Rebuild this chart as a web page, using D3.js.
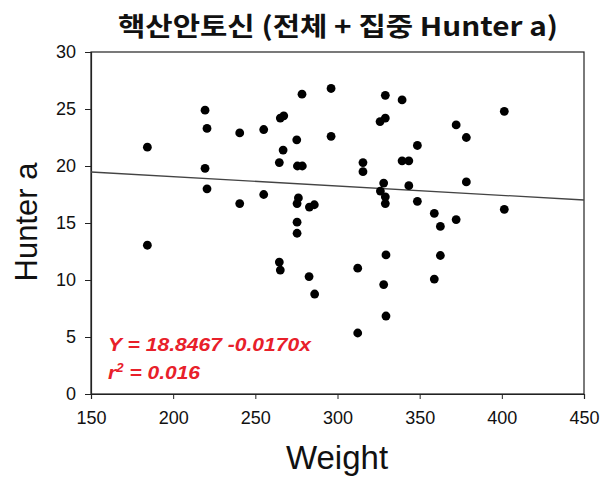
<!DOCTYPE html>
<html>
<head>
<meta charset="utf-8">
<script src="https://cdn.jsdelivr.net/npm/d3@7"></script>
<style>
  html, body { margin: 0; padding: 0; background: #fff; }
  svg { display: block; }
</style>
</head>
<body>
<div id="chart"></div>
<script>
// Sample weights and their Hunter a readings
const weight = [
  184.3, 184.3, 219.4, 220.6, 219.4, 220.6, 240.5, 240.5, 255.1, 255.1,
  265.2, 267.3, 266.9, 264.6, 264.6, 265.2, 278.4, 275.2, 275.6, 278.6,
  276.2, 275.4, 275.4, 275.4, 282.9, 285.9, 282.7, 286.1, 296.1, 296.1,
  312.3, 312.3, 315.5, 315.5, 325.9, 329.1, 329.1, 328.1, 326.1, 329.1,
  329.1, 329.5, 328.1, 329.5, 339.3, 339.3, 343.4, 343.4, 348.6, 348.6,
  358.9, 358.9, 362.6, 362.6, 372.2, 372.2, 378.4, 378.4, 401.5, 401.5
];
const hunterA = [
  21.65, 13.05, 24.9, 23.3, 19.8, 18.0, 22.9, 16.7, 23.2, 17.5,
  24.2, 24.4, 21.4, 20.3, 11.57, 10.87, 26.3, 22.3, 20.0, 20.0,
  17.2, 16.7, 15.07, 14.1, 16.4, 16.6, 10.3, 8.77, 26.8, 22.6,
  11.04, 5.35, 20.3, 19.5, 23.9, 24.2, 26.2, 18.5, 17.8, 17.3,
  16.7, 12.2, 9.6, 6.84, 25.8, 20.45, 20.45, 18.27, 21.8, 16.9,
  15.85, 10.08, 14.7, 12.15, 23.6, 15.3, 22.5, 18.6, 24.8, 16.2
];
const xTicks = [150, 200, 250, 300, 350, 400, 450];
const yTicks = [0, 5, 10, 15, 20, 25, 30];
const titleText = "핵산안토신 (전체 + 집중 Hunter a)";
const equationLines = ["Y = 18.8467 -0.0170x", "r² = 0.016"];

const W = 611, H = 482;
const margin = { left: 91, right: 27, top: 52, bottom: 88 };

const svg = d3.select("#chart").append("svg")
  .attr("width", W).attr("height", H);

const x = d3.scaleLinear().domain([150, 450]).range([margin.left, W - margin.right]);
const y = d3.scaleLinear().domain([0, 30]).range([H - margin.bottom, margin.top]);

const sans = "Liberation Sans, Arial, sans-serif";

// Plot frame
svg.append("rect")
  .attr("x", x(150)).attr("y", y(30))
  .attr("width", x(450) - x(150)).attr("height", y(0) - y(30))
  .attr("fill", "none").attr("stroke", "#222").attr("stroke-width", 1.2);

// Axes
const xAxis = svg.append("g")
  .attr("transform", `translate(0,${y(0)})`)
  .call(d3.axisBottom(x).tickValues(xTicks).tickSize(5).tickPadding(12));
const yAxis = svg.append("g")
  .attr("transform", `translate(${x(150)},0)`)
  .call(d3.axisLeft(y).tickValues(yTicks).tickSize(6).tickPadding(9));
[xAxis, yAxis].forEach(g => {
  g.select(".domain").attr("stroke", "#222").attr("stroke-width", 1.2);
  g.selectAll(".tick line").attr("stroke", "#222");
  g.selectAll(".tick text")
    .attr("font-family", sans)
    .attr("font-size", 18).attr("fill", "#111");
});

// Least-squares fit of the plotted points
const mx = d3.mean(weight), my = d3.mean(hunterA);
let sxy = 0, sxx = 0;
weight.forEach((w, i) => { sxy += (w - mx) * (hunterA[i] - my); sxx += (w - mx) ** 2; });
const slope = sxy / sxx, intercept = my - slope * mx;
svg.append("line")
  .attr("x1", x(150)).attr("y1", y(intercept + slope * 150))
  .attr("x2", x(450)).attr("y2", y(intercept + slope * 450))
  .attr("stroke", "#444").attr("stroke-width", 1.3);

// Data points
svg.append("g").selectAll("circle")
  .data(weight.map((w, i) => [w, hunterA[i]]))
  .join("circle")
  .attr("cx", d => x(d[0])).attr("cy", d => y(d[1]))
  .attr("r", 4.4).attr("fill", "#000");

// Title
svg.append("text")
  .attr("x", 338).attr("y", 36)
  .attr("text-anchor", "middle")
  .attr("font-family", "Noto Sans CJK KR, sans-serif")
  .attr("font-weight", "bold").attr("font-size", 26)
  .attr("textLength", 440).attr("lengthAdjust", "spacingAndGlyphs")
  .attr("fill", "#111")
  .text(titleText);

// Axis titles
svg.append("text")
  .attr("x", 337).attr("y", 469)
  .attr("text-anchor", "middle")
  .attr("font-family", sans)
  .attr("font-size", 33).attr("fill", "#111")
  .text("Weight");
svg.append("text")
  .attr("transform", "translate(37,222) rotate(-90)")
  .attr("text-anchor", "middle")
  .attr("font-family", sans)
  .attr("font-size", 31).attr("fill", "#111")
  .text("Hunter a");

// Regression equation
const eq = svg.append("g")
  .attr("font-family", sans)
  .attr("font-style", "italic").attr("font-weight", "bold")
  .attr("font-size", 19).attr("fill", "#e8202a");
eq.append("text").attr("x", 108).attr("y", 351)
  .attr("textLength", 203).attr("lengthAdjust", "spacingAndGlyphs")
  .text(equationLines[0]);
eq.append("text").attr("x", 108).attr("y", 379)
  .attr("textLength", 92).attr("lengthAdjust", "spacingAndGlyphs")
  .html('r<tspan baseline-shift="super" font-size="12">2</tspan> = 0.016');
</script>
</body>
</html>
